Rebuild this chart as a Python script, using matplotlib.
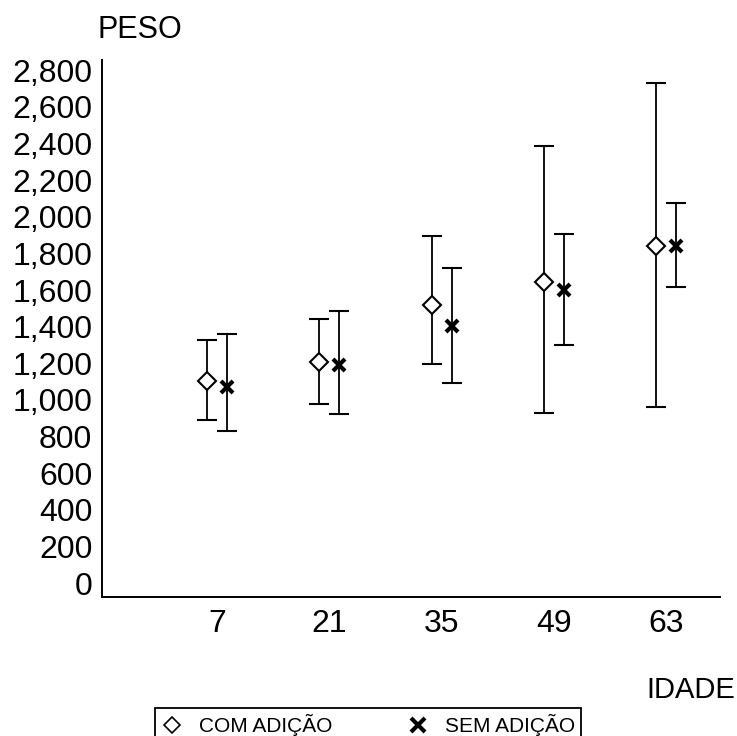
import matplotlib
matplotlib.use("Agg")
import matplotlib.pyplot as plt
from matplotlib.lines import Line2D

plt.rcParams['font.family'] = ['Liberation Sans', 'DejaVu Sans']

idade = [7, 21, 35, 49, 63]
y_ticks = [0, 200, 400, 600, 800, 1000, 1200, 1400, 1600, 1800, 2000, 2200, 2400, 2600, 2800]

com_mean = [1105, 1207, 1518, 1644, 1840]
com_low = [891, 978, 1196, 929, 962]
com_high = [1327, 1442, 1895, 2386, 2729]

sem_mean = [1069, 1191, 1404, 1600, 1840]
sem_low = [833, 924, 1093, 1300, 1616]
sem_high = [1360, 1486, 1720, 1906, 2075]

fig = plt.figure(figsize=(7.37, 7.36), dpi=100)
ax = fig.add_axes([102/737, 1-597/736, (720-102)/737, (597-60)/736])

off = 1.25
xc = [x - off for x in idade]
xs = [x + off for x in idade]

err_c = [[m - l for m, l in zip(com_mean, com_low)], [h - m for m, h in zip(com_mean, com_high)]]
err_s = [[m - l for m, l in zip(sem_mean, sem_low)], [h - m for m, h in zip(sem_mean, sem_high)]]

ax.errorbar(xc, com_mean, yerr=err_c, fmt='none', ecolor='black',
            elinewidth=1.3, capsize=7, capthick=1.5, zorder=2)
ax.errorbar(xs, sem_mean, yerr=err_s, fmt='none', ecolor='black',
            elinewidth=1.3, capsize=7, capthick=1.5, zorder=2)
ax.plot(xc, com_mean, linestyle='none', marker='D', mfc='white', mec='black',
        ms=9, mew=1.5, zorder=3)
ax.plot(xs, sem_mean, linestyle='none', marker='x', color='black',
        ms=9, mew=3, zorder=3)

ax.set_xlim(-7.36, 69.7)
ax.set_ylim(-75, 2855)
ax.set_xticks(idade)
ax.set_xticklabels([str(v) for v in idade])
ax.set_yticks(y_ticks)
ax.set_yticklabels([f"{v:,}" for v in y_ticks])
ax.tick_params(axis='both', length=0, labelsize=23)
ax.tick_params(axis='y', pad=7)
ax.tick_params(axis='x', pad=9)
for s in ['top', 'right']:
    ax.spines[s].set_visible(False)
for s in ['left', 'bottom']:
    ax.spines[s].set_linewidth(1.4)
    ax.spines[s].set_color('black')

fig.text(97/737, 1-30/736, "PESO", fontsize=22, ha='left', va='center')
fig.text(735/737, 1-690/736, "IDADE", fontsize=21, ha='right', va='center')

h1 = Line2D([], [], marker='D', linestyle='none', mfc='white', mec='black', ms=8, mew=1.2)
h2 = Line2D([], [], marker='x', linestyle='none', color='black', ms=10, mew=3)
leg = fig.legend([h1, h2], ["COM ADIÇÃO", "SEM ADIÇÃO"], loc='upper center',
                 bbox_to_anchor=(368/737, 1-708/736), ncol=2, fontsize=15,
                 frameon=True, fancybox=False, edgecolor='black', framealpha=1,
                 handlelength=1.0, handletextpad=0.8, columnspacing=3.6,
                 borderpad=0.3, borderaxespad=0)
leg.get_frame().set_linewidth(1.3)

fig.savefig("out.png", dpi=100)
